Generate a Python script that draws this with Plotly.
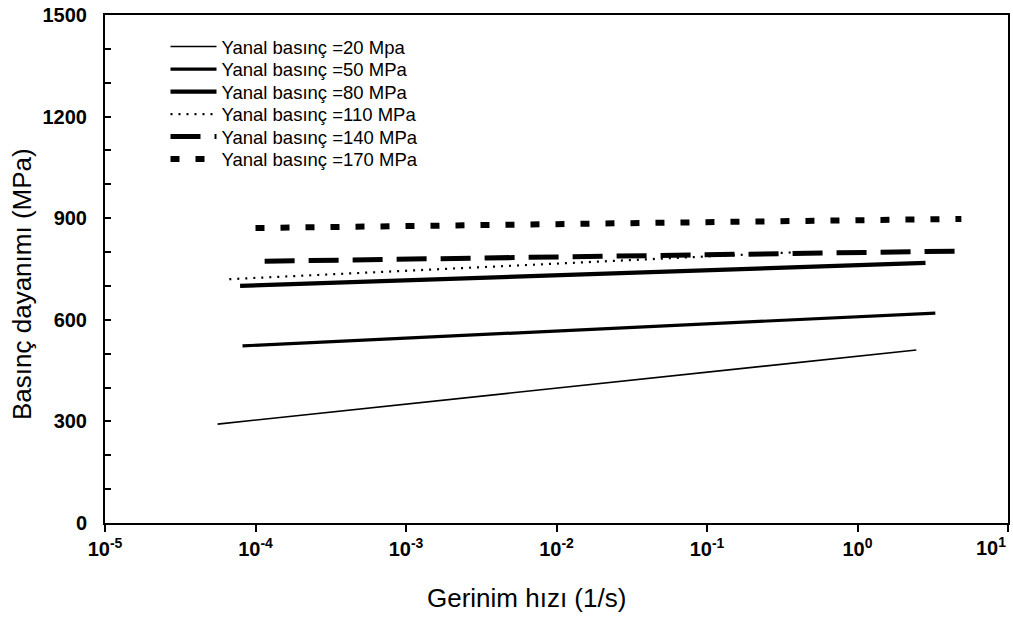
import plotly.graph_objects as go

names = ["Yanal basınç =20 Mpa", "Yanal basınç =50 MPa", "Yanal basınç =80 MPa",
         "Yanal basınç =110 MPa", "Yanal basınç =140 MPa", "Yanal basınç =170 MPa"]
x_start = [5.6e-5, 8.2e-5, 7.9e-5, 6.7e-5, 1.15e-4, 1.0e-4]
x_end = [2.46, 3.29, 2.83, 0.41, 4.8, 4.9]
y_start = [292, 523, 700, 720, 773, 871]
y_end = [511, 620, 768, 800, 803, 898]

widths = [1.6, 3.2, 4.2, 2.2, 5, 6]
dashes = ["solid", "solid", "solid", "2px,6px", "30px,14px", "9px,16px"]

xtick_vals = [1e-5, 1e-4, 1e-3, 1e-2, 1e-1, 1e0, 1e1]
xtick_text = ["10<sup>-5</sup>", "10<sup>-4</sup>", "10<sup>-3</sup>", "10<sup>-2</sup>",
              "10<sup>-1</sup>", "10<sup>0</sup>", ""]
last_tick_text = "10<sup>1</sup>"
x_title = "Gerinim hızı (1/s)"
y_title = "Basınç dayanımı (MPa)"

font = "Arial, Liberation Sans, sans-serif"

# legend row centres (pixels from top of figure) and layout geometry
legend_rows_px = [47, 69.5, 92, 114.5, 137, 159.5]
plot_top, plot_h = 15, 508

fig = go.Figure()
legend_layout = {}
for i in range(len(names)):
    key = "legend" if i == 0 else f"legend{i + 1}"
    fig.add_trace(go.Scatter(
        x=[x_start[i], x_end[i]], y=[y_start[i], y_end[i]],
        mode="lines", name=names[i], legend=key,
        line=dict(color="black", width=widths[i], dash=dashes[i]),
    ))
    legend_layout[key] = dict(
        x=0.067, y=1 - (legend_rows_px[i] - plot_top) / plot_h,
        xanchor="left", yanchor="middle",
        font=dict(size=18.5, family=font, color="black"),
        bgcolor="rgba(0,0,0,0)", itemwidth=46,
    )

fig.add_annotation(
    x=1, y=0, xref="x", yref="paper", text=last_tick_text,
    showarrow=False, xanchor="right", yanchor="top", yshift=-9, xshift=0,
    font=dict(size=20, family=font, weight="bold", color="black"),
)
fig.add_annotation(
    x=0.467, y=0, xref="paper", yref="paper", text=x_title,
    showarrow=False, xanchor="center", yanchor="middle", yshift=-75,
    font=dict(size=26, family=font, color="black"),
)
fig.add_annotation(
    x=0, y=0.4705, xref="paper", yref="paper", text=y_title, textangle=-90,
    showarrow=False, xanchor="center", yanchor="middle", xshift=-83,
    font=dict(size=26, family=font, color="black"),
)

fig.update_layout(
    width=1013, height=617,
    margin=dict(l=105, r=3, t=15, b=94),
    paper_bgcolor="white", plot_bgcolor="white",
    font=dict(family=font, color="black"),
    showlegend=True,
    xaxis=dict(
        type="log", range=[-5, 1],
        tickvals=xtick_vals, ticktext=xtick_text,
        ticks="outside", ticklen=7, tickwidth=1.5, tickcolor="black",
        tickfont=dict(size=20, family=font, weight="bold"),
        showline=True, linecolor="black", linewidth=2, mirror=True,
        showgrid=False, zeroline=False,
    ),
    yaxis=dict(
        range=[0, 1500],
        tickvals=list(range(0, 1501, 100)),
        ticktext=[str(v) if v % 300 == 0 else "" for v in range(0, 1501, 100)],
        ticks="inside", ticklen=6, tickwidth=1.5, tickcolor="black",
        tickfont=dict(size=20, family=font, weight="bold"),
        ticklabelstandoff=12,
        showline=True, linecolor="black", linewidth=2, mirror=True,
        showgrid=False, zeroline=False,
    ),
    **legend_layout,
)

fig.write_html("out.html")
